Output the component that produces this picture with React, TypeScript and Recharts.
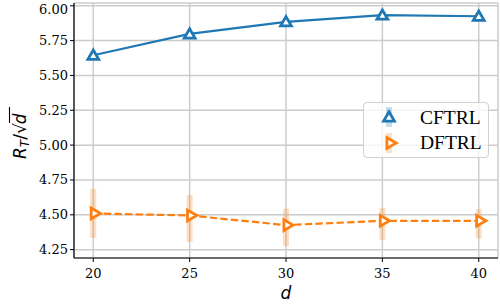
import React from 'react';
import {
  LineChart,
  Line,
  XAxis,
  YAxis,
  CartesianGrid,
  ErrorBar,
} from 'recharts';

// values
const dims = [20, 25, 30, 35, 40];
const cftrl = [5.645, 5.798, 5.885, 5.933, 5.925];
const dftrl = [4.51, 4.495, 4.426, 4.457, 4.457];
const dftrlLow = [4.334, 4.305, 4.275, 4.318, 4.33];
const dftrlHigh = [4.685, 4.642, 4.543, 4.55, 4.54];
const xTicks = [20, 25, 30, 35, 40];
const yTicks = [4.25, 4.5, 4.75, 5.0, 5.25, 5.5, 5.75, 6.0];

const BLUE = '#1f77b4';
const ORANGE = '#ff7f0e';

const chartData = dims.map((d, i) => ({
  d,
  cftrl: cftrl[i],
  dftrl: dftrl[i],
  dftrlErr: [dftrl[i] - dftrlLow[i], dftrlHigh[i] - dftrl[i]],
}));

const XTick = (props: any) => {
  const { x, y, payload } = props;
  return (
    <text x={x} y={y + 14} textAnchor="middle" fontFamily="DejaVu Serif" fontSize={13} fill="#000">
      {payload.value}
    </text>
  );
};

const YTick = (props: any) => {
  const { x, y, payload } = props;
  return (
    <text x={x} y={y + 4.5} textAnchor="end" fontFamily="DejaVu Serif" fontSize={13} fill="#000">
      {Number(payload.value).toFixed(2)}
    </text>
  );
};

const triUp = (cx: number, cy: number, r: number) =>
  `M${cx},${cy - r} L${cx + r * 0.87},${cy + r * 0.5} L${cx - r * 0.87},${cy + r * 0.5} Z`;
const triRight = (cx: number, cy: number, r: number) =>
  `M${cx + r},${cy} L${cx - r * 0.5},${cy - r * 0.87} L${cx - r * 0.5},${cy + r * 0.87} Z`;

const UpDot = (props: any) => {
  const { cx, cy, index } = props;
  if (cx == null || cy == null) return <g key={`u${index}`} />;
  return (
    <path key={`u${index}`} d={triUp(cx, cy + 1, 6.2)} fill="#fff" stroke={BLUE} strokeWidth={2.8} />
  );
};

const RightDot = (props: any) => {
  const { cx, cy, index } = props;
  if (cx == null || cy == null) return <g key={`r${index}`} />;
  return (
    <path key={`r${index}`} d={triRight(cx + 1, cy, 6.2)} fill="#fff" stroke={ORANGE} strokeWidth={2.8} />
  );
};

const YLabel = () => (
  <g transform="translate(26,131) rotate(-90)">
    <text x={-28} y={0} fontFamily="DejaVu Sans" fontSize={17} fill="#000">
      <tspan fontStyle="italic">R</tspan>
      <tspan fontStyle="italic" fontSize={12} dy={3}>T</tspan>
      <tspan dy={-3}>/√</tspan>
      <tspan fontStyle="italic" dx={-1}>d</tspan>
    </text>
    <line x1={8} x2={24} y1={-16.5} y2={-16.5} stroke="#000" strokeWidth={1.1} />
  </g>
);

const XLabel = () => (
  <text x={286} y={299} textAnchor="middle" fontFamily="DejaVu Sans" fontStyle="italic" fontSize={17} fill="#000">
    d
  </text>
);

const LegendBox = () => (
  <div
    style={{
      position: 'absolute',
      left: 363,
      top: 102,
      width: 124,
      height: 54,
      border: '1px solid #d0d0d0',
      borderRadius: 4,
      background: 'rgba(255,255,255,0.8)',
      fontFamily: 'Liberation Serif',
      fontSize: 19.5,
      color: '#000',
    }}
  >
    <svg width={40} height={54} style={{ position: 'absolute', left: 0, top: 0 }}>
      <rect x={22} y={4} width={6} height={20} fill={BLUE} fillOpacity={0.25} />
      <path d={triUp(25, 15, 6.2)} fill="#fff" stroke={BLUE} strokeWidth={2.8} />
      <rect x={22} y={30} width={6} height={20} fill={ORANGE} fillOpacity={0.25} />
      <path d={triRight(26, 40, 6.2)} fill="#fff" stroke={ORANGE} strokeWidth={2.8} />
    </svg>
    <div style={{ position: 'absolute', left: 56, top: 3, lineHeight: '24px' }}>CFTRL</div>
    <div style={{ position: 'absolute', left: 56, top: 28, lineHeight: '24px' }}>DFTRL</div>
  </div>
);

const App: React.FC = () => {
  return (
    <div style={{ position: 'absolute', left: 0, top: 0, width: 500, height: 304, background: '#fff' }}>
      <LineChart
        width={500}
        height={304}
        data={chartData}
        margin={{ top: 3, right: 2, left: 0, bottom: 0 }}
      >
        <CartesianGrid stroke="#cccccc" strokeWidth={1.5} />
        <XAxis
          dataKey="d"
          type="number"
          domain={[19, 41]}
          ticks={xTicks}
          allowDataOverflow
          height={46}
          tick={<XTick />}
          tickSize={4}
          tickLine={{ stroke: '#000', strokeWidth: 1 }}
          axisLine={{ stroke: '#000', strokeWidth: 1.2 }}
          label={<XLabel />}
        />
        <XAxis
          xAxisId="top"
          orientation="top"
          dataKey="d"
          type="number"
          domain={[19, 41]}
          height={0}
          tick={false}
          tickLine={false}
          axisLine={{ stroke: '#000', strokeWidth: 1.2 }}
        />
        <YAxis
          type="number"
          domain={[4.19, 6.02]}
          ticks={yTicks}
          allowDataOverflow
          width={74}
          tick={<YTick />}
          tickSize={4}
          tickLine={{ stroke: '#000', strokeWidth: 1 }}
          axisLine={{ stroke: '#000', strokeWidth: 1.2 }}
          label={<YLabel />}
        />
        <YAxis
          yAxisId="right"
          orientation="right"
          type="number"
          domain={[4.19, 6.02]}
          width={0}
          tick={false}
          tickLine={false}
          axisLine={{ stroke: '#000', strokeWidth: 1.2 }}
        />
        <Line
          dataKey="dftrl"
          stroke={ORANGE}
          strokeWidth={2.2}
          strokeDasharray="7.4 3.2"
          dot={RightDot}
          activeDot={false}
          isAnimationActive={false}
        >
          <ErrorBar
            dataKey="dftrlErr"
            direction="y"
            width={0}
            stroke={ORANGE}
            strokeOpacity={0.25}
            strokeWidth={6}
            isAnimationActive={false}
          />
        </Line>
        <Line
          dataKey="cftrl"
          stroke={BLUE}
          strokeWidth={2.2}
          dot={UpDot}
          activeDot={false}
          isAnimationActive={false}
        />
      </LineChart>
      <LegendBox />
    </div>
  );
};

export default App;
